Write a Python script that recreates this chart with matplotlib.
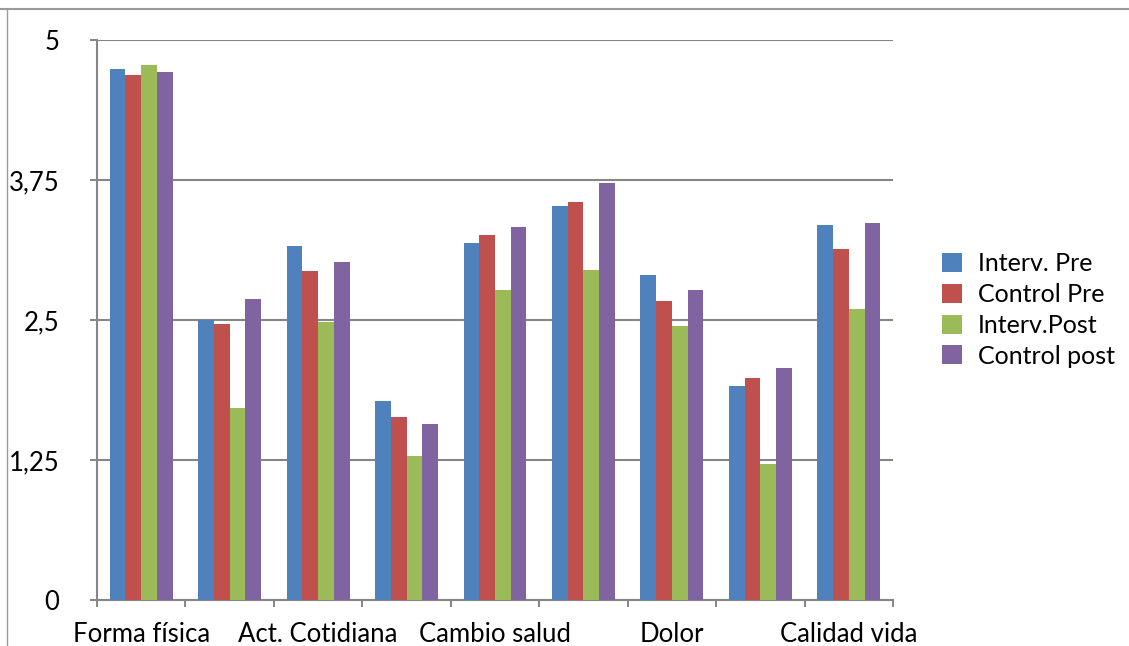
import matplotlib
matplotlib.use("Agg")
import matplotlib.pyplot as plt
from matplotlib.lines import Line2D
import numpy as np

categories = ["Forma física", "Sentimientos", "Act. Cotidiana", "Act. Sociales",
              "Cambio salud", "Estado salud", "Dolor", "Apoyo social", "Calidad vida"]
shown_labels = ["Forma física", "", "Act. Cotidiana", "", "Cambio salud", "", "Dolor", "", "Calidad vida"]
series_names = ["Interv. Pre", "Control Pre", "Interv.Post", "Control post"]
interv_pre   = [4.74, 2.50, 3.16, 1.78, 3.19, 3.52, 2.90, 1.91, 3.35]
control_pre  = [4.69, 2.46, 2.94, 1.63, 3.26, 3.55, 2.67, 1.98, 3.13]
interv_post  = [4.78, 1.71, 2.48, 1.29, 2.77, 2.95, 2.45, 1.21, 2.60]
control_post = [4.71, 2.69, 3.02, 1.57, 3.33, 3.72, 2.77, 2.07, 3.37]
yticks = [0, 1.25, 2.5, 3.75, 5]
ytick_labels = ["0", "1,25", "2,5", "3,75", "5"]
colors = ["#4F81BD", "#C0504D", "#9BBB59", "#8064A2"]

plt.rcParams['font.family'] = ['Lato', 'DejaVu Sans']

W, H = 1129, 646
fig = plt.figure(figsize=(W/100, H/100), dpi=100)
ax = fig.add_axes([97/W, 46/H, 796/W, 560/H])

x = np.arange(len(categories))
bw = 0.178
data = [interv_pre, control_pre, interv_post, control_post]
for i, (vals, name, c) in enumerate(zip(data, series_names, colors)):
    ax.bar(x + (i - 1.5) * bw, vals, width=bw, color=c, label=name, zorder=3,
           edgecolor='none')

gc = "#868686"
fs = 18.5
ax.set_xlim(-0.5, len(categories) - 0.5)
ax.set_ylim(0, 5)
ax.set_yticks(yticks)
ax.set_yticklabels(ytick_labels, fontsize=fs)
ax.tick_params(axis='y', length=5, width=1.4, color=gc, pad=22)
ax.yaxis.grid(True, color=gc, linewidth=1.5, zorder=0)

ax.set_xticks(np.arange(-0.5, len(categories), 1.0))
ax.set_xticklabels([])
ax.tick_params(axis='x', which='major', length=5, width=1.4, color=gc, direction='out')
ax.set_xticks(x, minor=True)
ax.set_xticklabels(shown_labels, minor=True, fontsize=fs)
ax.tick_params(axis='x', which='minor', length=0, pad=15.5)

for s in ['top', 'right']:
    ax.spines[s].set_visible(False)
for s in ['left', 'bottom']:
    ax.spines[s].set_color(gc)
    ax.spines[s].set_linewidth(1.5)

leg = ax.legend(loc='center left', bbox_to_anchor=(1.033, 0.518), frameon=False,
                fontsize=18, handlelength=0.8, handleheight=0.8,
                handletextpad=0.65, labelspacing=0.31)

# figure border lines (top and left)
fig.add_artist(Line2D([0, 1], [1 - 9/H, 1 - 9/H], transform=fig.transFigure, color="#9a9a9a", lw=1.5))
fig.add_artist(Line2D([7/W, 7/W], [0, 1 - 9/H], transform=fig.transFigure, color="#9a9a9a", lw=1.0))

fig.savefig("out.png", dpi=100)
